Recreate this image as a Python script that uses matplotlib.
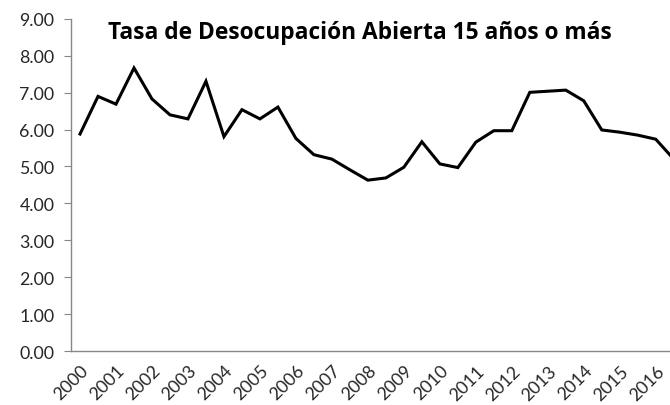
import matplotlib.pyplot as plt
import numpy as np

plt.rcParams['font.family'] = ['Lato', 'DejaVu Sans']

# semiannual observations, 2000-I .. 2016-II
tasa = [5.88, 6.90, 6.69, 7.67, 6.83, 6.40, 6.29, 7.31, 5.81, 6.54,
        6.29, 6.61, 5.76, 5.32, 5.20, 4.91, 4.63, 4.69, 4.98, 5.67,
        5.07, 4.97, 5.66, 5.97, 5.97, 7.01, 7.04, 7.07, 6.78, 5.99,
        5.93, 5.85, 5.74, 5.20]
years = [str(y) for y in range(2000, 2017)]

fig = plt.figure(figsize=(6.7, 4.06), dpi=100)
ax = fig.add_axes([0.106, 0.133, 0.913, 0.818])

x = np.arange(len(tasa))
ax.plot(x, tasa, color='black', lw=2.2, solid_joinstyle='miter')

ax.set_xlim(-0.5, len(tasa) - 0.5)
ax.set_ylim(0, 9)
ax.set_yticks(np.arange(0, 10, 1))
ax.set_yticklabels(['{:.2f}'.format(v) for v in range(10)], fontsize=12.8, color='#262626')
ax.set_xticks(x[::2][:len(years)])
ax.set_xticklabels(years, rotation=45, ha='right', rotation_mode='anchor',
                   fontsize=12.8, color='#262626')
ax.tick_params(axis='x', length=0, pad=8)
ax.tick_params(axis='y', length=5, color='#888888', pad=7)

for s in ['top', 'right']:
    ax.spines[s].set_visible(False)
for s in ['left', 'bottom']:
    ax.spines[s].set_color('#888888')
    ax.spines[s].set_linewidth(1)

fig.text(0.537, 0.918, 'Tasa de Desocupación Abierta 15 años o más',
         ha='center', va='center', fontsize=16.4, fontweight='bold',
         family=['Open Sans', 'DejaVu Sans'])

fig.savefig('out.png', dpi=100)
